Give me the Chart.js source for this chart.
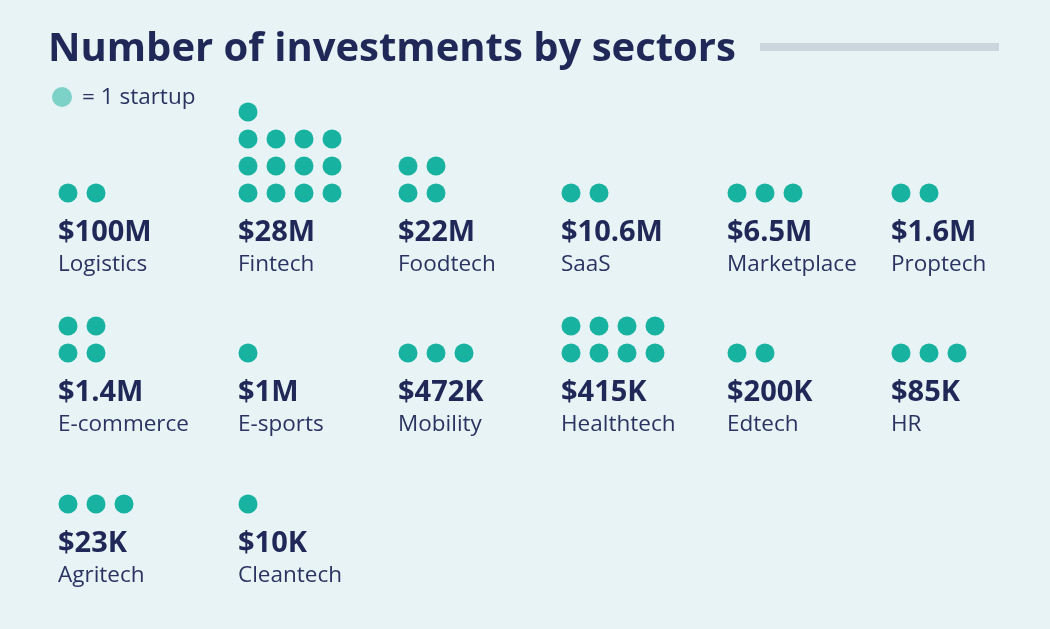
<!DOCTYPE html>
<html>
<head>
<meta charset="utf-8">
<script src="https://cdn.jsdelivr.net/npm/chart.js@4/dist/chart.umd.min.js"></script>
<style>
  html, body { margin: 0; padding: 0; background: #e8f3f6; }
  #wrap { width: 1050px; height: 629px; }
</style>
</head>
<body>
<div id="wrap"><canvas id="myChart" width="1050" height="629"></canvas></div>
<script>
// datos
const sectors = ['Logistics', 'Fintech', 'Foodtech', 'SaaS', 'Marketplace', 'Proptech',
  'E-commerce', 'E-sports', 'Mobility', 'Healthtech', 'Edtech', 'HR',
  'Agritech', 'Cleantech'];
const amounts = ['$100M', '$28M', '$22M', '$10.6M', '$6.5M', '$1.6M',
  '$1.4M', '$1M', '$472K', '$415K', '$200K', '$85K',
  '$23K', '$10K'];
const startups = [2, 13, 4, 2, 3, 2, 4, 1, 3, 8, 2, 3, 3, 1];

const titulo = 'Number of investments by sectors';
const leyenda = '= 1 startup';

// layout (pixeles en la escala del grafico)
const colX = [58, 238, 398, 561, 727, 891];
const rowY = [193, 353, 504];
const paso = 28;
const pasoY = 27;

const teal = '#17b2a0';
const navy = '#1f2856';
const texto = '#2b3461';

function porFila(n) {
  if (n <= 3) return n;
  if (n === 4) return 2;
  return 4;
}

// puntos de cada sector
const puntos = [];
startups.forEach((n, s) => {
  const cx = colX[s % 6] + 10;
  const cy = rowY[Math.floor(s / 6)];
  const k = porFila(n);
  for (let i = 0; i < n; i++) {
    puntos.push({ x: cx + (i % k) * paso, y: cy - Math.floor(i / k) * pasoY });
  }
});

const etiquetas = {
  id: 'etiquetas',
  afterDatasetsDraw(chart) {
    const c = chart.ctx;
    const xs = chart.scales.x, ys = chart.scales.y;
    c.save();
    c.textAlign = 'left';
    c.textBaseline = 'alphabetic';
    // titulo
    c.fillStyle = navy;
    c.font = 'bold 40px "Open Sans"';
    c.fillText(titulo, xs.getPixelForValue(48), ys.getPixelForValue(61));
    // linea gris
    c.fillStyle = '#cad5dc';
    c.fillRect(xs.getPixelForValue(760), ys.getPixelForValue(43), 239, 8);
    // leyenda
    c.fillStyle = texto;
    c.font = '22.5px "Open Sans"';
    c.fillText(leyenda, xs.getPixelForValue(82), ys.getPixelForValue(104));
    // sectores
    sectors.forEach((nombre, s) => {
      const x = xs.getPixelForValue(colX[s % 6]);
      const y = rowY[Math.floor(s / 6)];
      c.fillStyle = navy;
      c.font = 'bold 29px "Open Sans"';
      c.fillText(amounts[s], x, ys.getPixelForValue(y + 48));
      c.fillStyle = texto;
      c.font = '22.5px "Open Sans"';
      c.fillText(nombre, x, ys.getPixelForValue(y + 78));
    });
    c.restore();
  }
};

const ctx = document.getElementById('myChart').getContext('2d');
const myChart = new Chart(ctx, {
  type: 'scatter',
  data: {
    datasets: [{
      label: 'startups',
      data: puntos,
      backgroundColor: teal,
      borderWidth: 0,
      pointRadius: 9.5,
      pointHoverRadius: 9.5
    }, {
      label: 'leyenda',
      data: [{ x: 62, y: 97 }],
      backgroundColor: '#7dd2c7',
      borderWidth: 0,
      pointRadius: 10,
      pointHoverRadius: 10
    }]
  },
  options: {
    responsive: false,
    animation: false,
    layout: { padding: 0, autoPadding: false },
    plugins: { legend: { display: false }, tooltip: { enabled: false } },
    scales: {
      x: { type: 'linear', min: 0, max: 1050, display: false },
      y: { type: 'linear', min: 0, max: 629, reverse: true, display: false }
    }
  },
  plugins: [etiquetas]
});
</script>
</body>
</html>
